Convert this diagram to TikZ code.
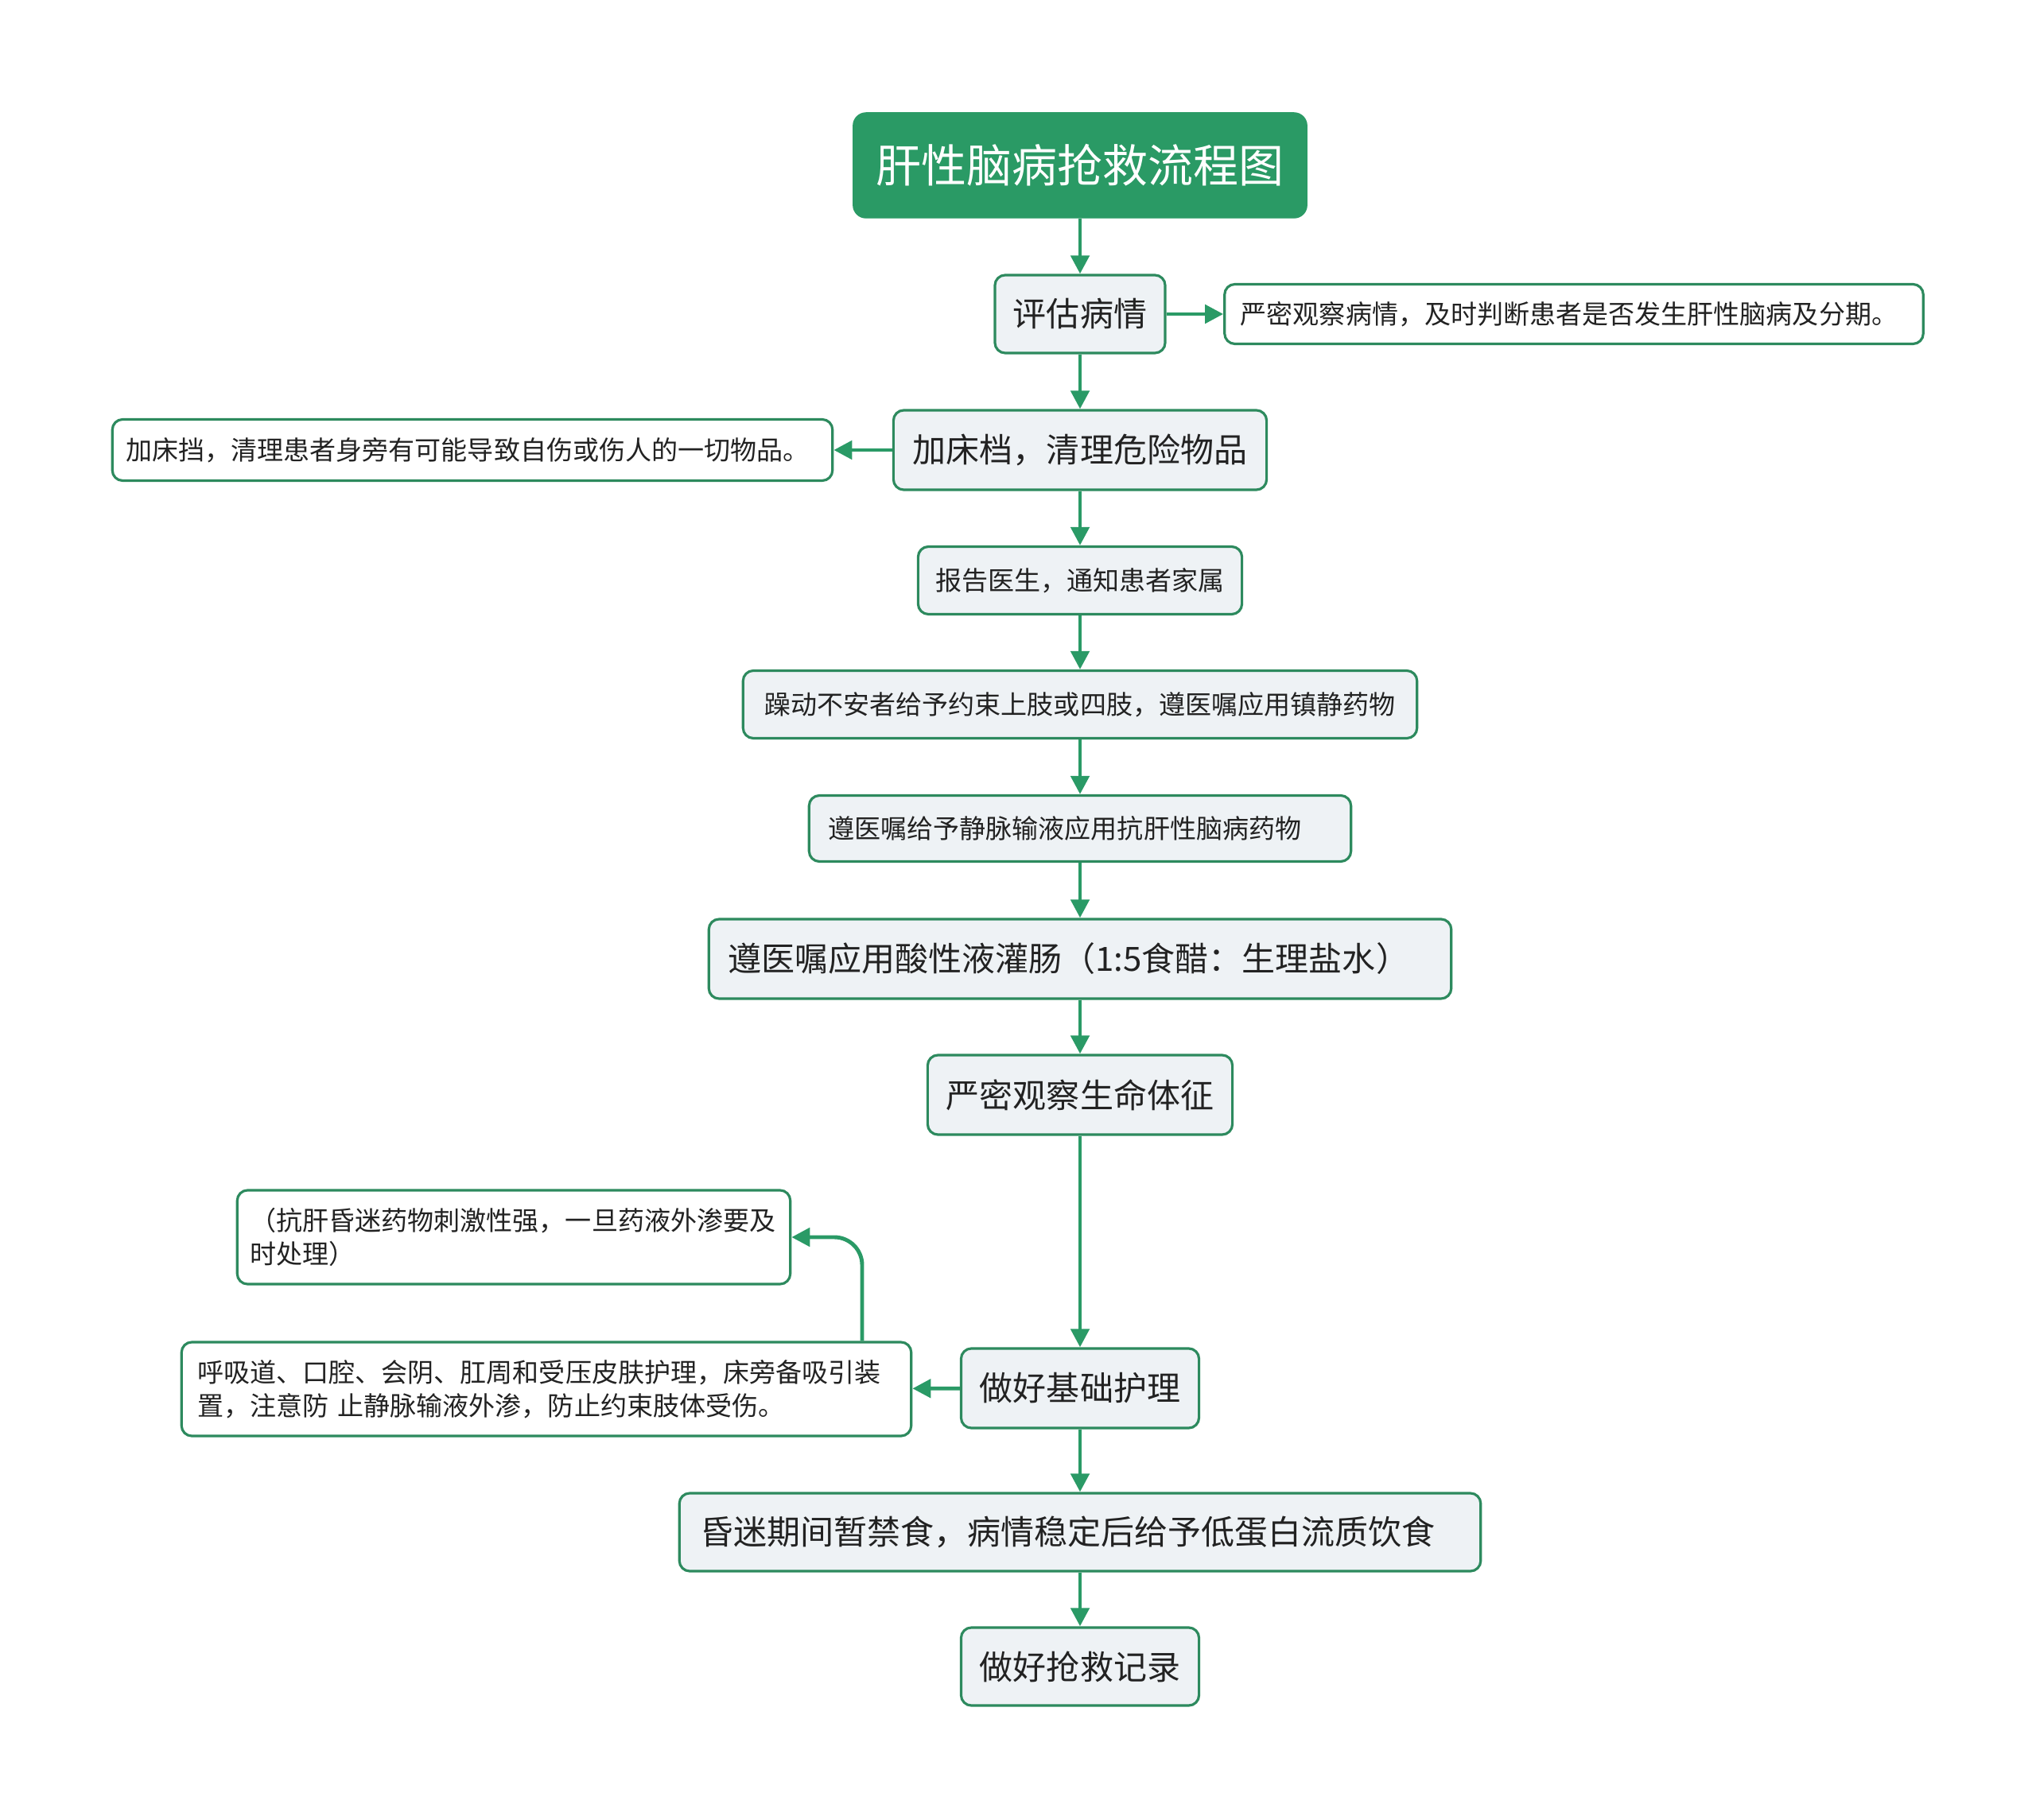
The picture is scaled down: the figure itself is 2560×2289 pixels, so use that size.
\documentclass[tikz,border=0pt]{standalone}
\usepackage{fontspec}
\setmainfont{Noto Sans CJK SC}
\usetikzlibrary{arrows.meta,positioning,calc}
\definecolor{gtitle}{HTML}{2A9A65}
\definecolor{gline}{HTML}{2A9A66}
\definecolor{gborder}{HTML}{2D8A5E}
\definecolor{boxfill}{HTML}{EEF2F5}
\definecolor{txt}{HTML}{222222}
\tikzset{
  base/.style={rounded corners=0.13cm, draw=gborder, line width=0.9pt, inner sep=0pt, text=txt, align=center},
  mainbox/.style={base, fill=boxfill, font=\fontsize{11.95pt}{14pt}\selectfont},
  smallbox/.style={base, fill=boxfill, font=\fontsize{9.4pt}{12pt}\selectfont},
  notebox/.style={base, fill=white, font=\fontsize{9.4pt}{12pt}\selectfont},
  titlebox/.style={rounded corners=0.16cm, fill=gtitle, draw=gtitle, text=white, inner sep=0pt, font=\fontsize{16.2pt}{20pt}\selectfont},
  arr/.style={draw=gline, line width=1.4pt, -{Triangle[length=0.23cm, width=0.23cm]}}
}
\begin{document}
\begin{tikzpicture}[x=0.01cm, y=-0.01cm]
\useasboundingbox (0,0) rectangle (2560,2289);
\node[titlebox, minimum width=5.70cm, minimum height=1.32cm] (t) at (1358,208) {肝性脑病抢救流程图};
\node[mainbox, minimum width=2.14cm, minimum height=0.98cm] (a) at (1358,395) {评估病情};
\node[notebox, align=left, text width=8.38cm, inner xsep=0.2cm, minimum height=0.75cm] (an) at (1979,395) {严密观察病情，及时判断患者是否发生肝性脑病及分期。};
\node[mainbox, minimum width=4.69cm, minimum height=1.00cm] (b) at (1358,566) {加床档，清理危险物品};
\node[notebox, align=left, text width=8.71cm, inner xsep=0.17cm, minimum height=0.77cm] (bn) at (594,566) {加床挡，清理患者身旁有可能导致自伤或伤人的一切物品。};
\node[smallbox, minimum width=4.07cm, minimum height=0.85cm] (c) at (1358,730) {报告医生，通知患者家属};
\node[smallbox, minimum width=8.47cm, minimum height=0.85cm] (d) at (1358,886) {躁动不安者给予约束上肢或四肢，遵医嘱应用镇静药物};
\node[smallbox, align=left, text width=6.33cm, inner xsep=0.24cm, minimum height=0.83cm] (e) at (1358,1042) {遵医嘱给予静脉输液应用抗肝性脑病药物};
\node[mainbox, align=left, text width=8.85cm, inner xsep=0.24cm, minimum height=1.00cm] (f) at (1358,1206) {遵医嘱应用酸性液灌肠（1:5食醋：生理盐水）};
\node[mainbox, minimum width=3.83cm, minimum height=1.00cm] (g) at (1358,1377) {严密观察生命体征};
\node[mainbox, minimum width=2.99cm, minimum height=1.00cm] (h) at (1358,1746) {做好基础护理};
\node[notebox, align=left, text width=8.77cm, inner xsep=0.2cm, minimum height=1.18cm] (hn) at (687,1747) {呼吸道、口腔、会阴、肛周和受压皮肤护理，床旁备吸引装\\置，注意防 止静脉输液外渗，防止约束肢体受伤。};
\node[notebox, align=left, text width=6.63cm, inner xsep=0.16cm, minimum height=1.18cm] (hm) at (646,1556) {（抗肝昏迷药物刺激性强，一旦药液外渗要及\\时处理）};
\node[mainbox, align=left, text width=9.55cm, inner xsep=0.26cm, minimum height=0.98cm] (i) at (1358,1927) {昏迷期间暂禁食，病情稳定后给予低蛋白流质饮食};
\node[mainbox, minimum width=2.99cm, minimum height=0.98cm] (j) at (1358,2096) {做好抢救记录};
\coordinate (c1) at (1084,1556);
\draw[arr] (t) -- (a);
\draw[arr] (a) -- (b);
\draw[arr] (b) -- (c);
\draw[arr] (c) -- (d);
\draw[arr] (d) -- (e);
\draw[arr] (e) -- (f);
\draw[arr] (f) -- (g);
\draw[arr] (g) -- (h);
\draw[arr] (h) -- (i);
\draw[arr] (i) -- (j);
\draw[arr] (a) -- (an);
\draw[arr] (b) -- (bn);
\draw[arr] (h) -- (hn);
\draw[arr, rounded corners=0.35cm] (c1 |- hn.north) |- (hm.east);
\end{tikzpicture}
\end{document}
